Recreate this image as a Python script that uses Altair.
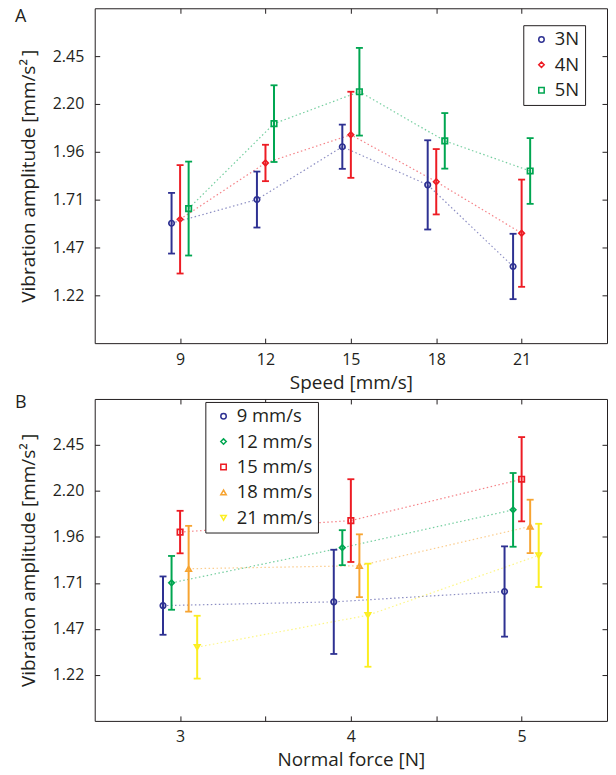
import altair as alt
import pandas as pd

# ---------------- data ----------------
speeds = [9, 12, 15, 18, 21]
forces = [3, 4, 5]
force_labels = ["3N", "4N", "5N"]
speed_labels = ["9 mm/s", "12 mm/s", "15 mm/s", "18 mm/s", "21 mm/s"]

mean_3N = [1.591, 1.712, 1.982, 1.787, 1.370]
err_3N = [0.155, 0.143, 0.113, 0.228, 0.167]
mean_4N = [1.611, 1.899, 2.043, 1.803, 1.540]
err_4N = [0.277, 0.093, 0.220, 0.167, 0.274]
mean_5N = [1.666, 2.100, 2.263, 2.012, 1.858]
err_5N = [0.240, 0.196, 0.224, 0.142, 0.168]

y_ticks = [1.2226, 1.4671, 1.7116, 1.9561, 2.2006, 2.4451]
speed_ticks = [9, 12, 15, 18, 21]
force_ticks = [3, 3.5, 4, 4.5, 5]
panel_letters = ["A", "B"]

FONT = "Open Sans"
TXT = "#231f20"
BLUE, RED, GREEN, ORANGE, YELLOW = "#2e3192", "#ed1c24", "#00a651", "#f7a431", "#fcee21"
force_colors = [BLUE, RED, GREEN]
speed_colors = [BLUE, GREEN, RED, ORANGE, YELLOW]
Y_DOMAIN = [0.9781, 2.6896]

# ---------------- build table ----------------
means = [mean_3N, mean_4N, mean_5N]
errs = [err_3N, err_4N, err_5N]
rows = []
for fi, f in enumerate(forces):
    for si, s in enumerate(speeds):
        m = means[fi][si]
        e = errs[fi][si]
        rows.append(dict(
            speed=s, force=f,
            force_label=force_labels[fi], speed_label=speed_labels[si],
            col_a=force_colors[fi], col_b=speed_colors[si],
            mean=m, lo=m - e, hi=m + e,
            xa=s + (fi - 1) * 0.3,       # dodge within speed group
            xb=f + (si - 2) * 0.05,      # dodge within force group
        ))
df = pd.DataFrame(rows)


def panel(xfield, xdomain, xticks, xtitle, cfield, colfield, cdomain, crange, srange,
          letter, letter_y, height, lx, ly, label_expr=None):
    xs = alt.Scale(domain=xdomain, nice=False, zero=False)
    ys = alt.Scale(domain=Y_DOMAIN, nice=False, zero=False)
    bottom_kw = dict(orient="bottom", values=xticks, title=xtitle, offset=-5,
                     tickSize=5, domain=False, grid=False, labelPadding=8,
                     labelFontSize=16, titleFontSize=19, titleFontWeight="normal",
                     titlePadding=6, labelFont=FONT, titleFont=FONT,
                     labelColor=TXT, titleColor=TXT, tickColor=TXT, format="~g")
    if label_expr:
        bottom_kw["labelExpr"] = label_expr
    x_bottom = alt.Axis(**bottom_kw)
    x_top = alt.Axis(orient="top", values=xticks, labels=False, title=None,
                     offset=-5, tickSize=5, domain=False, grid=False, tickColor=TXT)
    y_left = alt.Axis(orient="left", values=y_ticks, format=".2f",
                      title="Vibration amplitude [mm/s\u00b2\u2009]", offset=-5,
                      tickSize=5, domain=False, grid=False, labelPadding=11,
                      labelFontSize=16, titleFontSize=19, titleFontWeight="normal",
                      titlePadding=14, labelFont=FONT, titleFont=FONT,
                      labelColor=TXT, titleColor=TXT, tickColor=TXT)
    y_right = alt.Axis(orient="right", values=y_ticks, labels=False, title=None,
                       offset=-5, tickSize=5, domain=False, grid=False, tickColor=TXT)

    cscale = alt.Scale(domain=cdomain, range=crange)
    sscale = alt.Scale(domain=cdomain, range=srange)
    legend = alt.Legend(title=None, orient="none", legendX=lx, legendY=ly,
                        fillColor="white", strokeColor=TXT, padding=5,
                        labelFontSize=18.5, labelFont=FONT, labelColor=TXT,
                        symbolSize=30, symbolStrokeWidth=1.5, rowPadding=6.5,
                        symbolOffset=4, labelOffset=4)
    color = alt.Color(f"{cfield}:N", scale=cscale, legend=legend)
    raw_stroke = alt.Stroke(f"{colfield}:N", scale=None)
    raw_fill = alt.Fill(f"{colfield}:N", scale=None)

    base = alt.Chart(df)
    lines = base.mark_line(strokeDash=[1.5, 2.5], strokeWidth=1.2, opacity=0.55).encode(
        x=alt.X(f"{xfield}:Q", scale=xs, axis=x_bottom),
        y=alt.Y("mean:Q", scale=ys, axis=y_left),
        stroke=raw_stroke,
        detail=f"{cfield}:N",
        order=alt.Order(f"{xfield}:Q"),
    )
    bars = base.mark_rule(strokeWidth=2).encode(
        x=alt.X(f"{xfield}:Q", scale=xs, axis=None),
        y=alt.Y("lo:Q", scale=ys, axis=None),
        y2="hi:Q",
        stroke=raw_stroke,
    )
    cap_lo = base.mark_tick(orient="horizontal", size=7, thickness=1.8, opacity=1).encode(
        x=alt.X(f"{xfield}:Q", scale=xs, axis=None),
        y=alt.Y("lo:Q", scale=ys, axis=None),
        fill=raw_fill,
    )
    cap_hi = base.mark_tick(orient="horizontal", size=7, thickness=1.8, opacity=1).encode(
        x=alt.X(f"{xfield}:Q", scale=xs, axis=None),
        y=alt.Y("hi:Q", scale=ys, axis=None),
        fill=raw_fill,
    )
    pts = base.mark_point(filled=False, size=30, strokeWidth=1.7, opacity=1).encode(
        x=alt.X(f"{xfield}:Q", scale=xs, axis=x_top),
        y=alt.Y("mean:Q", scale=ys, axis=y_right),
        color=color,
        shape=alt.Shape(f"{cfield}:N", scale=sscale, legend=legend),
    )
    tag = alt.Chart(pd.DataFrame({"letter": [letter]})).mark_text(
        align="left", baseline="alphabetic", fontSize=18, font=FONT, color=TXT
    ).encode(x=alt.value(-80), y=alt.value(letter_y), text="letter:N")
    return alt.layer(lines, bars, cap_lo, cap_hi, pts, tag).properties(
        width=514, height=height,
    )


panel_a = panel("xa", [6, 24], speed_ticks, "Speed [mm/s]", "force_label", "col_a",
                force_labels, force_colors,
                ["circle", "diamond", "square"], panel_letters[0], 14, 336, 430, 17)
panel_b = panel("xb", [2.5, 5.5], force_ticks, "Normal force [N]", "speed_label", "col_b",
                speed_labels, speed_colors,
                ["circle", "diamond", "square", "triangle-up", "triangle-down"],
                panel_letters[1], 9, 323, 111, 3,
                label_expr="datum.value % 1 == 0 ? datum.label : ''")

chart = alt.vconcat(panel_a, panel_b, spacing=0).resolve_scale(
    x="independent", color="independent", shape="independent"
).properties(padding={"left": 6, "top": -2, "right": 0, "bottom": 0}).configure_view(
    stroke=TXT, strokeWidth=1
)

chart.save("out.html", embed_options={"renderer": "svg", "actions": False})
